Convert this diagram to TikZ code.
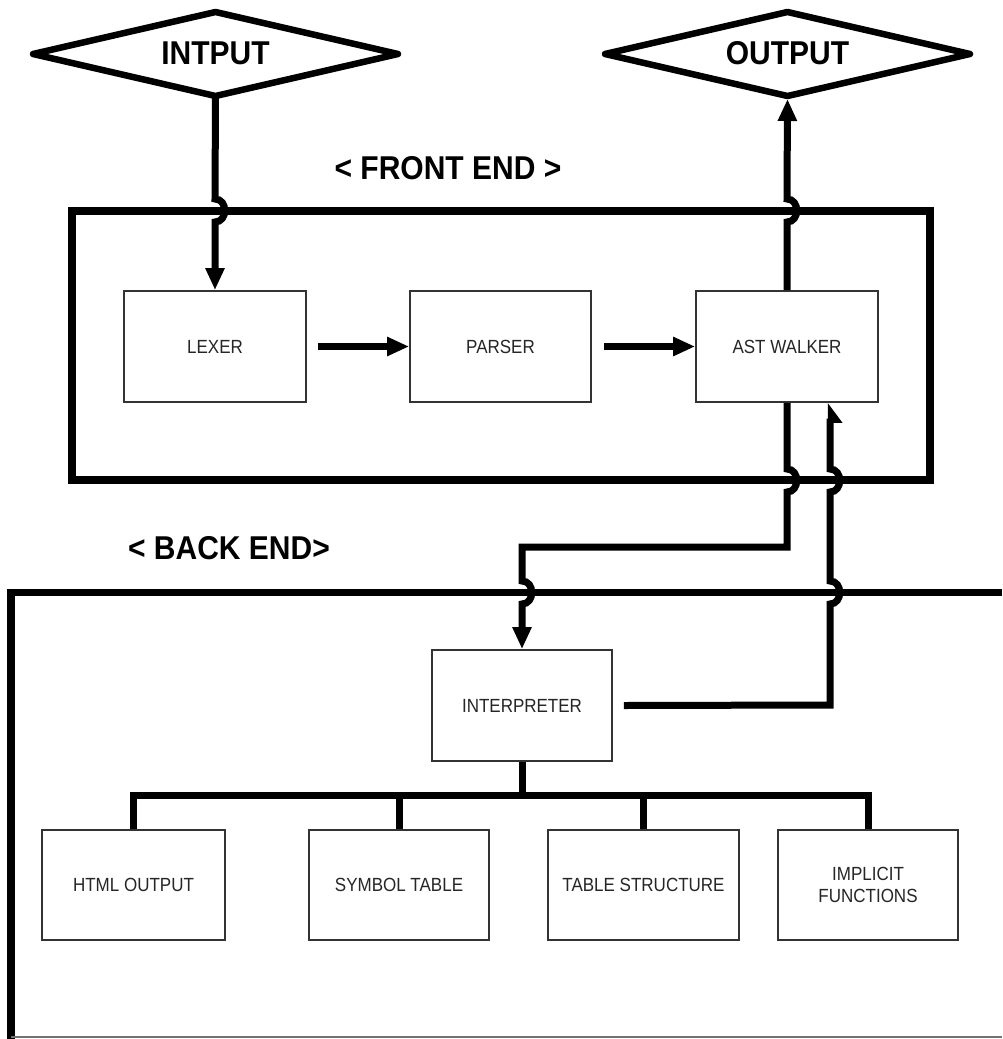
\documentclass[tikz,border=0pt]{standalone}
\usepackage{fontspec}
\setmainfont{Liberation Sans}
\usetikzlibrary{shapes.geometric,arrows.meta}
\begin{document}
\begin{tikzpicture}[x=1pt,y=-1pt,
  thickline/.style={line width=7.5pt},
  conn/.style={line width=7pt,line join=miter},
  diamline/.style={line width=6.5pt,line join=round},
  blk/.style={draw=black!80,line width=1.8pt,minimum width=182pt,minimum height=111pt,inner sep=0pt,
    align=center,text=black!85,font=\fontsize{17}{22}\selectfont},
  biglabel/.style={font=\fontsize{30}{36}\selectfont\bfseries},
  tip/.style={-{Triangle[length=22pt,width=18pt]}}
]
\useasboundingbox (0,0) rectangle (1002,1039);
\fill[white] (0,0) rectangle (1002,1039);

% frames
\draw[thickline] (72,211) rectangle (930,480);
\draw[thickline] (1002,592.5) -- (11,592.5) -- (11,1039);
\draw[line width=2pt,black!55] (11,1037) -- (1002,1037);

% labels
\node[biglabel] (fe) at (448,168) {\scalebox{1}[1.1]{< FRONT END >}};
\node[biglabel] (be) at (229,548) {\scalebox{1}[1.1]{< BACK END>}};

% diamonds
\draw[diamline] (215.5,12) -- (398,54) -- (215.5,96) -- (33,54) -- cycle;
\node[biglabel] (in) at (215.5,53) {\scalebox{1}[1.1]{INTPUT}};
\coordinate (inS) at (215.5,98);
\draw[diamline] (787.5,12) -- (970,54) -- (787.5,96) -- (605,54) -- cycle;
\node[biglabel] (out) at (787.5,53) {\scalebox{1}[1.1]{OUTPUT}};
\coordinate (outS) at (787.5,99);

% blocks
\node[blk] (lexer) at (215,346.5) {\scalebox{1}[1.12]{LEXER}};
\node[blk, minimum width=181pt] (parser) at (500.5,346.5) {\scalebox{1}[1.12]{PARSER}};
\node[blk] (ast) at (787,346.5) {\scalebox{1}[1.12]{AST WALKER}};
\node[blk, minimum width=180pt] (interp) at (522,705.5) {\scalebox{1}[1.12]{INTERPRETER}};
\node[blk, minimum width=183pt, minimum height=110pt] (html) at (133.5,885) {\scalebox{1}[1.12]{HTML OUTPUT}};
\node[blk, minimum width=180pt, minimum height=110pt] (symbol) at (399,885) {\scalebox{1}[1.12]{SYMBOL TABLE}};
\node[blk, minimum width=191pt, minimum height=110pt] (tstruct) at (643.5,885) {\scalebox{1}[1.12]{TABLE STRUCTURE}};
\node[blk, minimum width=180pt, minimum height=110pt] (impl) at (868,885) {\scalebox{1}[1.12]{IMPLICIT}\\\scalebox{1}[1.12]{FUNCTIONS}};

% input -> lexer
\draw[conn,tip] (inS) -- (215,199) .. controls (228,199) and (228,222) .. (215,222) -- (lexer.north);
% lexer -> parser -> ast
\draw[conn,tip] ([xshift=11pt]lexer.east) -- (parser.west);
\draw[conn,tip] ([xshift=12pt]parser.east) -- (ast.west);
% ast -> output
\draw[conn,tip] (ast.north) -- (787,222) .. controls (800,222) and (800,199) .. (787,199) -- (outS);
% ast -> interpreter
\draw[conn,tip] (ast.south) -- (787,469) .. controls (800,469) and (800,492) .. (787,492)
  -- (787,547) -- (522,547) -- (522,581) .. controls (535,581) and (535,604) .. (522,604) -- (interp.north);
% interpreter -> ast
\coordinate (ret) at (830,705);
\draw[conn,-{Triangle[right,length=17pt,width=24pt]}] ([xshift=11pt]interp.east) -- (ret) -- (830,604)
  .. controls (843,604) and (843,581) .. (830,581) -- (830,492)
  .. controls (843,492) and (843,469) .. (830,469) -- (ret |- ast.south);
% bus
\coordinate (bus) at (522,795);
\draw[conn] (interp.south) -- (bus);
\draw[conn] (html.north) |- (bus) -| (impl.north);
\draw[conn] (symbol.north) -- (symbol.north |- bus);
\draw[conn] (tstruct.north) -- (tstruct.north |- bus);
\end{tikzpicture}
\end{document}
